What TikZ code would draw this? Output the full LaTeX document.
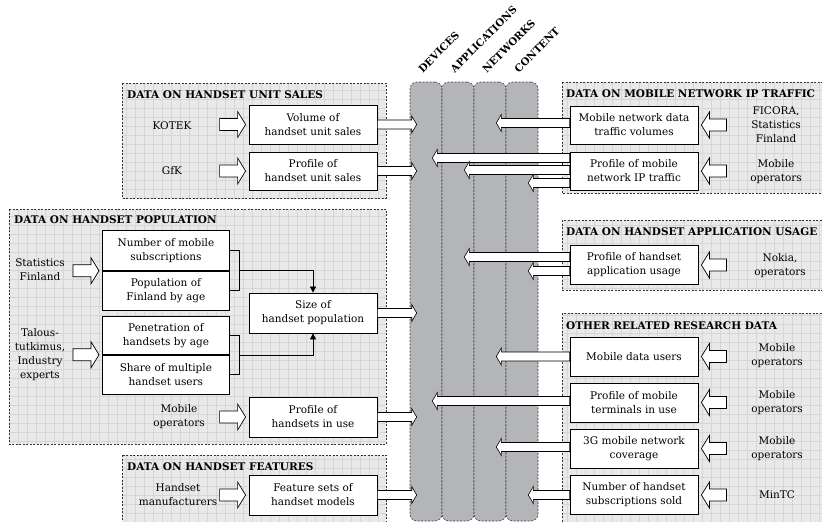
\documentclass[tikz,border=0pt]{standalone}
\usepackage{fontspec}
\setmainfont{DejaVu Serif}
\usetikzlibrary{calc,arrows.meta}
\definecolor{groupbg}{RGB}{233,233,233}
\definecolor{gridcol}{RGB}{214,214,214}
\definecolor{colbg}{RGB}{180,181,184}
\begin{document}
\begin{tikzpicture}[x=1pt,y=-1pt,
  txt/.style={font=\fontsize{10.5}{14}\selectfont, align=center, inner sep=0pt},
  ttl/.style={font=\bfseries\fontsize{10.5}{12}\selectfont, anchor=west, inner sep=0pt},
  collab/.style={font=\bfseries\fontsize{10.2}{12}\selectfont, rotate=45, anchor=south west, inner sep=0pt},
  box/.style={draw, fill=white, line width=0.8pt, minimum width=128pt, minimum height=39pt,
    align=center, inner sep=0pt, font=\fontsize{10.5}{14}\selectfont},
  sbox/.style={box, minimum width=127pt},
  groupframe/.style={draw=black!80, line width=0.7pt, dash pattern=on 2pt off 1.5pt},
  gridl/.style={draw=gridcol, line width=0.45pt},
  colbox/.style={draw=black!75, fill=colbg, line width=0.6pt, dash pattern=on 2pt off 1.5pt,
    rounded corners=7pt, minimum width=32pt, minimum height=439pt, inner sep=0pt},
  link/.style={line width=0.7pt, -{Triangle[length=6pt,width=6pt]}},
  brace/.style={line width=0.7pt},
  % wide hollow arrow pointing right, ending just before the target box
  inR/.style={draw=black, fill=white, line width=0.7pt, to path={let \p2=(\tikztotarget) in
    (\x2-29pt,\y2+6pt) -- (\x2-11pt,\y2+6pt) -- (\x2-11pt,\y2+13pt) -- (\x2-3pt,\y2)
    -- (\x2-11pt,\y2-13pt) -- (\x2-11pt,\y2-6pt) -- (\x2-29pt,\y2-6pt) -- cycle}},
  % wide hollow arrow pointing left, ending just after the target box
  inL/.style={draw=black, fill=white, line width=0.7pt, to path={let \p2=(\tikztotarget) in
    (\x2+28pt,\y2+6pt) -- (\x2+11pt,\y2+6pt) -- (\x2+11pt,\y2+13pt) -- (\x2+3pt,\y2)
    -- (\x2+11pt,\y2-13pt) -- (\x2+11pt,\y2-6pt) -- (\x2+28pt,\y2-6pt) -- cycle}},
  % slim hollow arrow from a box into a column, entering from the left
  outR/.style={draw=black, fill=white, line width=0.6pt, to path={let \p1=(\tikztostart), \p2=(\tikztotarget) in
    (\x1,\y1+4.5pt) -- (\x2+2pt,\y1+4.5pt) -- (\x2+2pt,\y1+8.5pt) -- (\x2+7pt,\y1)
    -- (\x2+2pt,\y1-8.5pt) -- (\x2+2pt,\y1-4.5pt) -- (\x1,\y1-4.5pt) -- cycle}},
  % slim hollow arrow from a box into a column, entering from the right
  outL/.style={draw=black, fill=white, line width=0.6pt, to path={let \p1=(\tikztostart), \p2=(\tikztotarget) in
    (\x1,\y1+4.5pt) -- (\x2-5pt,\y1+4.5pt) -- (\x2-5pt,\y1+8.5pt) -- (\x2-10pt,\y1)
    -- (\x2-5pt,\y1-8.5pt) -- (\x2-5pt,\y1-4.5pt) -- (\x1,\y1-4.5pt) -- cycle}},
]
\useasboundingbox (0,0) rectangle (822,522);

% ---------- gridded panels ----------
\foreach \xa/\ya/\xb/\yb in {122/83/386/198, 9/209/386/444, 122/455/386/530,
                              562/82/830/193, 562/220/830/290, 562/313/830/530}{
  \begin{scope}
    \clip (\xa,\ya) rectangle (\xb,\yb);
    \fill[groupbg] (\xa,\ya) rectangle (\xb,\yb);
    \draw[gridl] (0,531) grid[step=9pt] (831,0);
  \end{scope}
  \draw[groupframe] (\xa,\ya) rectangle (\xb,\yb);
}

% ---------- the four columns ----------
\node[colbox] (c1) at (426,301.5) {};
\node[colbox] (c2) at (458,301.5) {};
\node[colbox] (c3) at (490,301.5) {};
\node[colbox] (c4) at (522,301.5) {};
\node[collab] at ($(c1.north)+(-3,-8)$) {DEVICES};
\node[collab] at ($(c2.north)+(-3,-8)$) {APPLICATIONS};
\node[collab] at ($(c3.north)+(-3,-8)$) {NETWORKS};
\node[collab] at ($(c4.north)+(-3,-8)$) {CONTENT};

% ---------- handset unit sales ----------
\node[ttl] at (127,95) {DATA ON HANDSET UNIT SALES};
\node[txt] (kotek) at (172,126) {KOTEK};
\node[txt] (gfk) at (172,171) {GfK};
\node[box] (vol) at (313,124.5) {Volume of\\handset unit sales};
\node[box, minimum height=38pt] (pus) at (313,171) {Profile of\\handset unit sales};

% ---------- handset population ----------
\node[ttl] at (14,220) {DATA ON HANDSET POPULATION};
\node[txt] (statfin) at (40,270) {Statistics\\Finland};
\node[txt] (talous) at (40,355) {Talous-\\tutkimus,\\Industry\\experts};
\node[sbox, minimum height=40pt, anchor=north west] (numsub) at (102,230) {Number of mobile\\subscriptions};
\node[sbox, anchor=north] (popfin) at (numsub.south) {Population of\\Finland by age};
\node[sbox, minimum height=38pt, anchor=north west] (penet) at (102,316) {Penetration of\\handsets by age};
\node[sbox, anchor=north] (share) at (penet.south) {Share of multiple\\handset users};
\node[box, minimum height=40pt] (size) at (313,313) {Size of\\handset population};
\node[txt] (mobop1) at (179,417) {Mobile\\operators};
\node[box, minimum height=40pt] (phiu) at (313,417) {Profile of\\handsets in use};

% ---------- handset features ----------
\node[ttl] at (127,467) {DATA ON HANDSET FEATURES};
\node[txt] (hman) at (178,495) {Handset\\manufacturers};
\node[box, minimum height=40pt] (fs) at (313,495) {Feature sets of\\handset models};

% ---------- mobile network IP traffic ----------
\node[ttl] at (566,94) {DATA ON MOBILE NETWORK IP TRAFFIC};
\node[box, minimum height=38pt] (mnd) at (634,125) {Mobile network data\\traffic volumes};
\node[box, minimum height=38pt] (pmn) at (634,171) {Profile of mobile\\network IP traffic};
\node[txt] (ficora) at (776,125) {FICORA,\\Statistics\\Finland};
\node[txt] (mobop2) at (776,172) {Mobile\\operators};

% ---------- handset application usage ----------
\node[ttl] at (566,232) {DATA ON HANDSET APPLICATION USAGE};
\node[box] (pau) at (634,265) {Profile of handset\\application usage};
\node[txt] (nokia) at (780,266) {Nokia,\\operators};

% ---------- other research data ----------
\node[ttl] at (566,326) {OTHER RELATED RESEARCH DATA};
\node[box] (mdu) at (634,356.5) {Mobile data users};
\node[box] (pmt) at (634,402.5) {Profile of mobile\\terminals in use};
\node[box] (g3) at (634,448.5) {3G mobile network\\coverage};
\node[box] (nhs) at (634,495) {Number of handset\\subscriptions sold};
\node[txt] (mobop3) at (777,356) {Mobile\\operators};
\node[txt] (mobop4) at (777,403) {Mobile\\operators};
\node[txt] (mobop5) at (777,449) {Mobile\\operators};
\node[txt] (mintc) at (777,495) {MinTC};

% ---------- source arrows ----------
\draw[inR] (kotek) to (vol.west);
\draw[inR] (gfk) to (pus.west);
\draw[inR] (statfin) to (numsub.south west);
\draw[inR] (talous) to (penet.south west);
\draw[inR] (mobop1) to (phiu.west);
\draw[inR] (hman) to (fs.west);
\draw[inL] (ficora) to (mnd.east);
\draw[inL] (mobop2) to (pmn.east);
\draw[inL] (nokia) to (pau.east);
\draw[inL] (mobop3) to (mdu.east);
\draw[inL] (mobop4) to (pmt.east);
\draw[inL] (mobop5) to (g3.east);
\draw[inL] (mintc) to (nhs.east);

% ---------- combining the population inputs ----------
\draw[brace] (numsub.east) -- ++(10,0) coordinate (b1) -- (b1 |- popfin.east) coordinate (b2) -- (popfin.east);
\draw[link] ($(b1)!0.5!(b2)$) -| (size.north);
\draw[brace] (penet.east) -- ++(10,0) coordinate (b3) -- (b3 |- share.east) coordinate (b4) -- (share.east);
\draw[link] ($(b3)!0.5!(b4)$) -| (size.south);

% ---------- outputs into the columns ----------
\draw[outR] (vol.east) to (c1.west);
\draw[outR] (pus.east) to (c1.west);
\draw[outR] (size.east) to (c1.west);
\draw[outR] (phiu.east) to (c1.west);
\draw[outR] (fs.east) to (c1.west);

\draw[outL] ([yshift=2pt]mnd.west) to (c3.east);
\draw[outL] ([yshift=13pt]pmn.west) to (c1.east);
\draw[outL] ([yshift=1pt]pmn.west) to (c2.east);
\draw[outL] ([yshift=-12pt]pmn.west) to (c4.east);
\draw[outL] ([yshift=8pt]pau.west) to (c2.east);
\draw[outL] ([yshift=-6pt]pau.west) to (c4.east);
\draw[outL] (mdu.west) to (c3.east);
\draw[outL] ([yshift=1.5pt]pmt.west) to (c1.east);
\draw[outL] ([yshift=1.5pt]g3.west) to (c3.east);
\draw[outL] (nhs.west) to (c4.east);
\end{tikzpicture}
\end{document}
